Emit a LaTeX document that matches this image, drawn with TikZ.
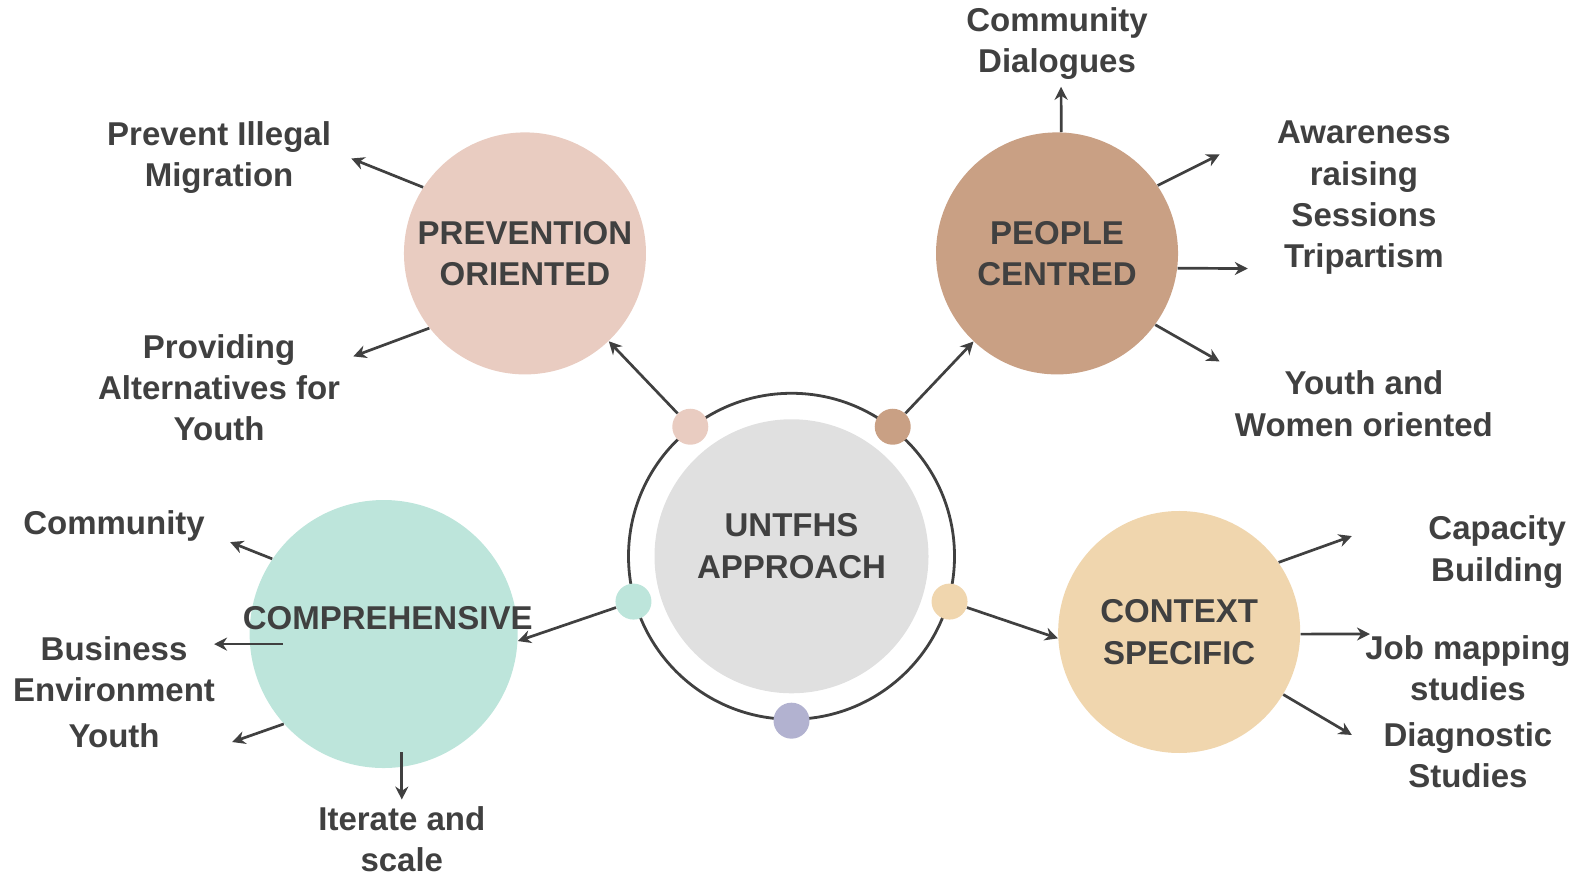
\documentclass[tikz,border=0pt]{standalone}
\usepackage{fontspec}
\setmainfont{Liberation Sans}
\usepackage{tikz}
\usepackage{xcolor}
\usetikzlibrary{arrows.meta}
\definecolor{ink}{HTML}{404040}
\definecolor{prevention-pink}{HTML}{E9CCC1}
\definecolor{people-brown}{HTML}{C9A084}
\definecolor{comp-green}{HTML}{BDE5DB}
\definecolor{context-sand}{HTML}{F0D6AE}
\definecolor{core-gray}{HTML}{E0E0E0}
\definecolor{dot-lilac}{HTML}{B2B2D0}
\tikzset{
    big-circle/.style = {circle, inner sep=0pt, minimum size=121pt, text=ink, align=center},
    small-dot/.style = {circle, inner sep=0pt, minimum size=18pt},
    item-text/.style = {text=ink, align=center, inner sep=0pt, yshift=-1pt},
    out-arrow/.style = {draw=ink, line width=1.35pt, -{Stealth[length=6.5pt,width=6.5pt]}},
}

\begin{document}
\begin{tikzpicture}[x=0.50478pt, y=-0.50478pt, font=\fontsize{16.5}{20.7}\selectfont\bfseries]
\useasboundingbox (0,0) rectangle (1568,865);

\node [big-circle, fill=core-gray, minimum size=137pt] (core) at (784,551) {};
\node [item-text] (core-text) at (784,539) {UNTFHS\\APPROACH};
\node [circle, draw=ink, line width=1.4pt, minimum size=163pt, inner sep=0pt] (ring) at (784,551) {};
\node [small-dot, fill=prevention-pink] (dot-prev) at (ring.128) {};
\node [small-dot, fill=people-brown] (dot-people) at (ring.52.5) {};
\node [small-dot, fill=comp-green] (dot-comp) at (ring.196) {};
\node [small-dot, fill=context-sand] (dot-context) at (ring.-16) {};
\node [small-dot, fill=dot-lilac] (dot-low) at (ring.270) {};

\node [big-circle, fill=prevention-pink] (prev) at (520,251) {PREVENTION\\ORIENTED};
\node [big-circle, fill=people-brown] (people) at (1047,251) {PEOPLE\\CENTRED};
\node [big-circle, fill=comp-green, minimum size=134pt] (comp) at (380,628) {};
\node [item-text] (comp-text) at (384,610) {COMPREHENSIVE};
\node [big-circle, fill=context-sand] (context) at (1168,626) {CONTEXT\\SPECIFIC};

\draw [out-arrow] (dot-prev) -- (prev);
\draw [out-arrow] (dot-people) -- (people);
\draw [out-arrow] (dot-comp) -- (comp.-3);
\draw [out-arrow] (dot-context) -- (context.183);

\node [item-text] (illegal) at (217,154) {Prevent Illegal\\Migration};
\node [item-text] (alternatives) at (217,382) {Providing\\Alternatives for\\Youth};
\node [item-text] (dialogues) at (1047,41) {Community\\Dialogues};
\node [item-text] (awareness) at (1351,194) {Awareness\\raising\\Sessions\\Tripartism};
\node [item-text] (women) at (1351,398) {Youth and\\Women oriented};
\node [item-text] (community) at (113,519) {Community};
\node [item-text] (business) at (113,661) {Business\\Environment};
\node [item-text] (youth) at (113,727) {Youth};
\node [item-text] (iterate) at (398,829) {Iterate and\\scale};
\node [item-text] (capacity) at (1483,545) {Capacity\\Building};
\node [item-text] (job) at (1454,660) {Job mapping\\studies};
\node [item-text] (diagnostic) at (1454,746) {Diagnostic\\Studies};

\coordinate (illegal-end) at (348,157);
\coordinate (alternatives-end) at (350,353);
\coordinate (dialogues-end) at (1051,86);
\coordinate (awareness-end) at (1208,153);
\coordinate (tripartism-end) at (1236,266);
\coordinate (women-end) at (1208,358);
\coordinate (community-end) at (228,537);
\coordinate (business-start) at (280,638);
\coordinate (business-end) at (212,638);
\coordinate (youth-end) at (230,735);
\coordinate (iterate-start) at (398,745);
\coordinate (iterate-end) at (398,792);
\coordinate (capacity-end) at (1339,531);
\coordinate (job-end) at (1357,628);
\coordinate (diagnostic-end) at (1339,728);

\draw [out-arrow] (prev.147) -- (illegal-end);
\draw [out-arrow] (prev.218) -- (alternatives-end);
\draw [out-arrow] (people.88) -- (dialogues-end);
\draw [out-arrow] (people.34.5) -- (awareness-end);
\draw [out-arrow] (people.-7) -- (tripartism-end);
\draw [out-arrow] (people.-36) -- (women-end);
\draw [out-arrow] (comp.146) -- (community-end);
\draw [out-arrow] (business-start) -- (business-end);
\draw [out-arrow] (comp.222) -- (youth-end);
\draw [out-arrow] (iterate-start) -- (iterate-end);
\draw [out-arrow] (context.35) -- (capacity-end);
\draw [out-arrow] (context.-1) -- (job-end);
\draw [out-arrow] (context.-31) -- (diagnostic-end);
\end{tikzpicture}
\end{document}
